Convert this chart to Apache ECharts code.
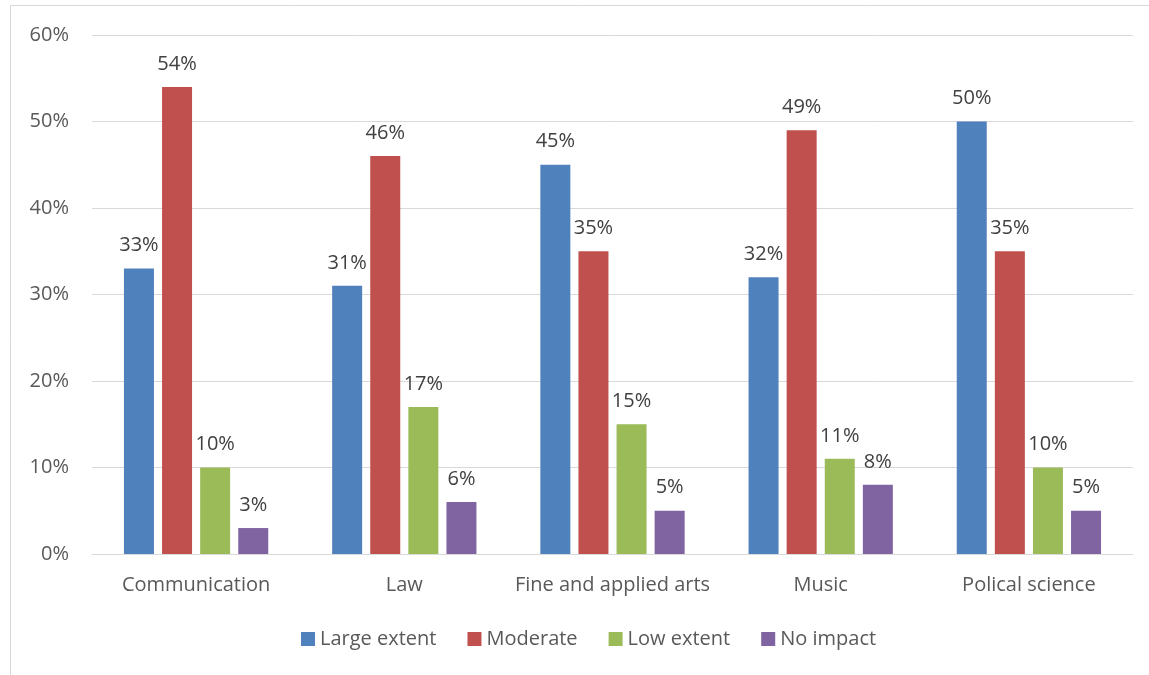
<!DOCTYPE html>
<html>
<head>
<meta charset="utf-8">
<title>Chart</title>
<script src="https://cdn.jsdelivr.net/npm/echarts@6/dist/echarts.min.js"></script>
<style>
html, body { margin: 0; padding: 0; background: #fff; }
#container0 { width: 1149px; height: 675px; }
</style>
</head>
<body>
<div id="container0"></div>
<script>
var categories = ['Communication', 'Law', 'Fine and applied arts', 'Music', 'Polical science'];
var largeExtent = [33, 31, 45, 32, 50];
var moderate = [54, 46, 35, 49, 35];
var lowExtent = [10, 17, 15, 11, 10];
var noImpact = [3, 6, 5, 8, 5];
var colors = ['#4F81BD', '#C0504D', '#9BBB59', '#8064A2'];

var font = 'Open Sans';
var textColor = '#595959';

function makeSeries(name, data) {
    return {
        name: name,
        type: 'bar',
        barWidth: 30,
        barGap: '27%',
        data: data,
        label: {
            show: true,
            position: 'top',
            distance: 13,
            formatter: '{c}%',
            color: '#404040',
            fontFamily: font,
            fontSize: 20
        }
    };
}

var opt_chart_0 = {
    color: colors,
    animation: false,
    graphic: [
        {
            type: 'rect',
            shape: { x: 10.5, y: 5.5, width: 1300, height: 800 },
            style: { fill: 'none', stroke: '#d9d9d9', lineWidth: 1 },
            silent: true
        }
    ],
    grid: {
        left: 92,
        right: 16,
        top: 35,
        bottom: 121
    },
    legend: {
        left: 296,
        top: 624,
        itemWidth: 14,
        itemHeight: 14,
        itemGap: 31,
        icon: 'rect',
        textStyle: { color: textColor, fontFamily: font, fontSize: 20 },
        data: ['Large extent', 'Moderate', 'Low extent', 'No impact']
    },
    xAxis: {
        type: 'category',
        data: categories,
        axisTick: { show: false },
        axisLine: { lineStyle: { color: '#d9d9d9', width: 1 } },
        axisLabel: { interval: 0, color: textColor, fontFamily: font, fontSize: 20, margin: 21 }
    },
    yAxis: {
        type: 'value',
        min: 0,
        max: 60,
        interval: 10,
        axisLine: { show: false },
        axisTick: { show: false },
        axisLabel: { formatter: '{value}%', color: textColor, fontFamily: font, fontSize: 20, margin: 23 },
        splitLine: { lineStyle: { color: '#d9d9d9', width: 1 } }
    },
    series: [
        makeSeries('Large extent', largeExtent),
        makeSeries('Moderate', moderate),
        makeSeries('Low extent', lowExtent),
        makeSeries('No impact', noImpact)
    ]
};

var chart_0 = echarts.init(document.getElementById('container0'));
chart_0.setOption(opt_chart_0);
</script>
</body>
</html>
